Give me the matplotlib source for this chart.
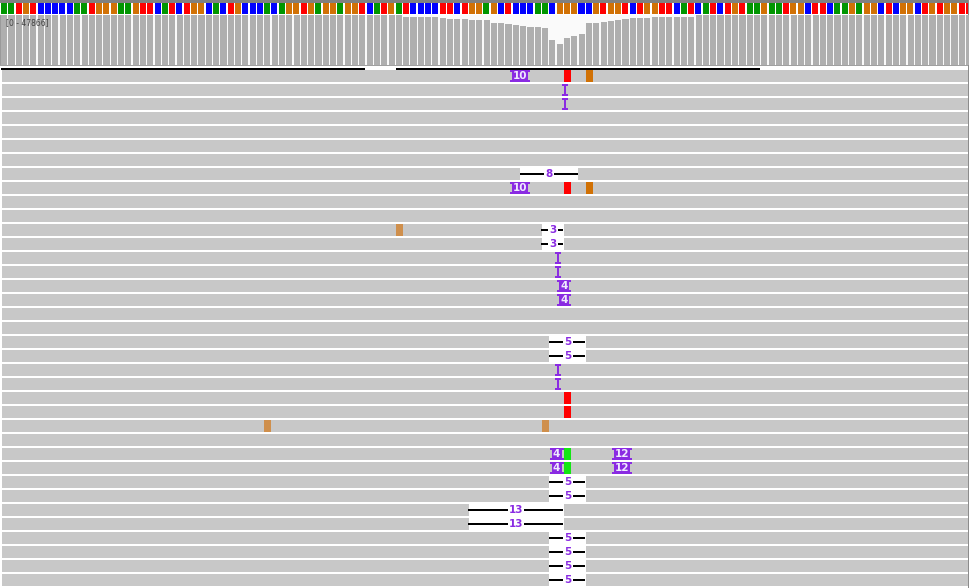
import matplotlib.pyplot as plt
from matplotlib.patches import Rectangle

# view: base i is drawn from i to i+1 (bp units), ~7.31 px per base
PX = 1 / 7.31
X0, X1 = -1 * PX, 968 * PX

# reference strip (A green, C blue, G orange, T red)
ref_seq = ("AATGTCCCCCAATGGGAAGTTCATCT" + "G"
           + "GCACTGCCCACAGGTGAGGAGGTCAT"
           + "GATCCCCTTCTGGAGCTCCCAACGGGC"
           + "CGTGGTCTGGTTCATCATCTGTAAGA"
           + "ATGGCTTCAAGAGGCTCGGCTGTGGTT")

coverage = ([47570] * 55 + [46250] * 5 + [45280] + [44320] * 3 + [43370] * 3
            + [40500] * 2 + [39540, 38580, 37620, 36670, 36670, 35710]
            + [24220, 20390, 26140, 28050, 29960]
            + [40500, 40500, 41450, 42400, 43370, 44320]
            + [45280] * 3 + [46250] * 6 + [47570] * 38)
cov_max = 47866

n_rows = 37
# (row, base position, base, low quality)
mismatches = [(0, 77, "T", False), (0, 80, "G", False),
              (8, 77, "T", False), (8, 80, "G", False),
              (11, 54, "G", True),
              (23, 77, "T", False), (24, 77, "T", False),
              (25, 36, "G", True), (25, 74, "G", True),
              (27, 77, "A", False), (28, 77, "A", False)]
# (row, position, inserted bases)
insertions = [(0, 71, 10), (8, 71, 10),
              (1, 77, 1), (2, 77, 1),
              (13, 76, 1), (14, 76, 1),
              (15, 77, 4), (16, 77, 4),
              (21, 76, 1), (22, 76, 1),
              (27, 76, 4), (28, 76, 4),
              (27, 85, 12), (28, 85, 12)]
# (row, start, deleted bases)
deletions = [(7, 71, 8), (11, 74, 3), (12, 74, 3),
             (19, 75, 5), (20, 75, 5), (29, 75, 5), (30, 75, 5),
             (31, 64, 13), (32, 64, 13),
             (33, 75, 5), (34, 75, 5), (35, 75, 5), (36, 75, 5)]
# downsampled intervals
downsampled = [(X0 + PX, 49.8), (54.0, 103.8)]

base_colors = {"A": "#009600", "C": "#0000ff", "G": "#d17105", "T": "#ff0000"}
mm_colors = {"A": "#14e614", "C": "#0000ff", "G": "#d17105", "T": "#ff0000"}
low_q = {"G": "#cf8f4c"}
purple = "#8a2be2"
read_grey = "#c8c8c8"

fig = plt.figure(figsize=(9.69, 5.88), dpi=100)
ax = fig.add_axes([0, 0, 1, 1])
ax.set_xlim(X0, X1)
ax.set_ylim(588, 0)
ax.axis("off")

# top grey strip and reference bases
ax.add_patch(Rectangle((X0, 0), X1 - X0, 2.7, color="#808080", lw=0))
for i, b in enumerate(ref_seq):
    ax.add_patch(Rectangle((i, 3.3), 1 - 1.3 * PX, 10.7, color=base_colors[b], lw=0))

# coverage track
ax_cov = fig.add_axes([0, 1 - 65 / 588, 1, 50 / 588], sharex=ax)
ax_cov.set_ylim(0, cov_max)
ax_cov.axis("off")
ax.add_patch(Rectangle((X0, 15), X1 - X0, 50, color="#fafafa", lw=0))
ax.add_patch(Rectangle((X0, 15), 1.3 * PX, 50, color="#9a9a9a", lw=0))
ax_cov.bar([i + 0.5 - 0.5 * PX for i in range(len(coverage))], coverage,
           width=1 - 1.2 * PX, color="#afafaf", lw=0)
ax_cov.text(5 * PX, 23, "[0 - 47866]", fontsize=5.5, color="#404040", va="center",
            ha="left", transform=ax.transData, zorder=5)

# separator and downsampled marks
ax.add_patch(Rectangle((X0, 65.3), X1 - X0, 1.2, color="#a0a0a0", lw=0))
for s, e in downsampled:
    ax.add_patch(Rectangle((s, 67.6), e - s, 2, color="black", lw=0))


def row_top(r):
    return 70 + 14 * r


# reads
for r in range(n_rows):
    ax.add_patch(Rectangle((X0 + 2 * PX, row_top(r)), X1 - X0, 12, color=read_grey, lw=0))

for r, p, b, lq in mismatches:
    c = low_q[b] if lq else mm_colors[b]
    ax.add_patch(Rectangle((p, row_top(r)), 1 - 0.3 * PX, 12, color=c, lw=0))

for r, s, n in deletions:
    t = row_top(r)
    ax.add_patch(Rectangle((s, t - 1), n, 14, color="white", lw=0))
    ax.add_patch(Rectangle((s - 0.5 * PX, t + 5), n, 2, color="black", lw=0))
    lw = (6 * len(str(n)) + 4) * PX
    cx = s + n / 2
    ax.add_patch(Rectangle((cx - lw / 2, t), lw, 12, color="white", lw=0))
    ax.text(cx, t + 6.3, str(n), fontsize=7.5, fontweight="bold", color=purple,
            ha="center", va="center")

for r, p, n in insertions:
    t = row_top(r)
    if n == 1:
        cx = p + 1.5 * PX
        ax.add_patch(Rectangle((cx - 1 * PX, t), 2 * PX, 12, color=purple, lw=0))
        ax.add_patch(Rectangle((cx - 3 * PX, t), 6 * PX, 1.6, color=purple, lw=0))
        ax.add_patch(Rectangle((cx - 3 * PX, t + 10.4), 6 * PX, 1.6, color=purple, lw=0))
    else:
        bw = (6 * len(str(n)) + 4) * PX
        cw = bw + 4 * PX
        ax.add_patch(Rectangle((p - bw / 2, t), bw, 12, color=purple, lw=0))
        ax.add_patch(Rectangle((p - cw / 2, t), cw, 1.6, color=purple, lw=0))
        ax.add_patch(Rectangle((p - cw / 2, t + 10.4), cw, 1.6, color=purple, lw=0))
        ax.text(p, t + 6.3, str(n), fontsize=7.5, fontweight="bold", color="#f0eaff",
                ha="center", va="center")

# right border
ax.add_patch(Rectangle((967.3 * PX, 0), X1 - 967.3 * PX + 1, 588, color="#8c8c8c", lw=0))

fig.savefig("out.png", dpi=100)
